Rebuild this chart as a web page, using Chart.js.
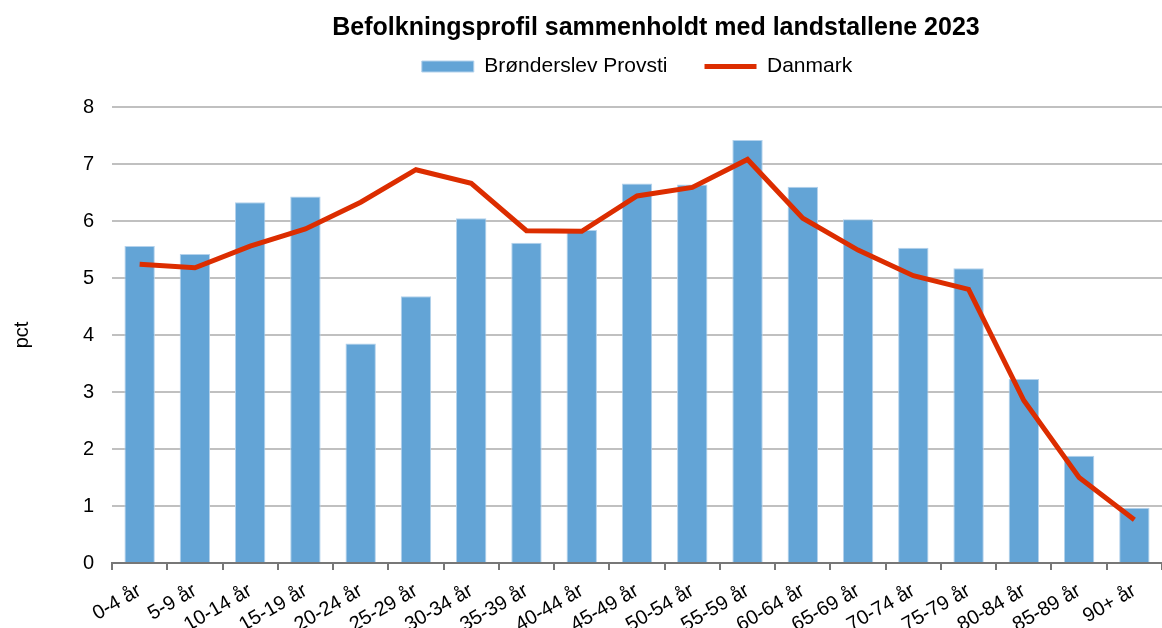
<!DOCTYPE html>
<html lang="da">
<head>
<meta charset="UTF-8">
<title>Befolkningsprofil</title>
<script src="https://cdn.jsdelivr.net/npm/chart.js"></script>
<style>
    body {
        margin: 0;
        background: #fff;
        font-family: 'Liberation Sans', Arial, sans-serif;
    }
</style>
</head>
<body>
<canvas id="chart" width="1162" height="628"></canvas>
<script>
// aldersgrupper
var labels = ['0-4 år', '5-9 år', '10-14 år', '15-19 år', '20-24 år', '25-29 år', '30-34 år',
    '35-39 år', '40-44 år', '45-49 år', '50-54 år', '55-59 år', '60-64 år', '65-69 år',
    '70-74 år', '75-79 år', '80-84 år', '85-89 år', '90+ år'];

// pct af befolkningen
var provsti = [5.56, 5.42, 6.33, 6.43, 3.85, 4.68, 6.05, 5.62, 5.84, 6.66, 6.64, 7.42,
    6.60, 6.03, 5.53, 5.17, 3.23, 1.88, 0.97];
var danmark = [5.24, 5.18, 5.56, 5.86, 6.33, 6.90, 6.66, 5.83, 5.82, 6.44, 6.59, 7.08,
    6.05, 5.49, 5.04, 4.80, 2.85, 1.50, 0.76];

Chart.defaults.font.family = "'Liberation Sans', Arial, sans-serif";
Chart.defaults.color = '#000';

// ekstra luft mellem legend og plot, og titlen lidt mod højre
var spacer = {
    id: 'spacer',
    beforeInit: function(chart) {
        Chart.layouts.addBox(chart, {
            position: 'top',
            weight: 100,
            fullSize: false,
            options: {},
            top: 0, left: 0, right: 0, bottom: 0, width: 0, height: 0,
            isHorizontal: function() { return true; },
            update: function(maxWidth) {
                this.width = maxWidth;
                this.height = 20;
            },
            draw: function() {}
        });
    },
    afterLayout: function(chart) {
        if (chart.titleBlock) {
            chart.titleBlock.left += 19;
            chart.titleBlock.right += 19;
        }
    }
};

var ctx = document.getElementById('chart').getContext('2d');
new Chart(ctx, {
    type: 'bar',
    data: {
        labels: labels,
        datasets: [{
            type: 'line',
            label: 'Danmark',
            data: danmark,
            borderColor: '#dc2d00',
            backgroundColor: '#dc2d00',
            borderWidth: 5,
            pointRadius: 0,
            pointStyle: 'line',
            tension: 0,
            order: 0
        }, {
            label: 'Brønderslev Provsti',
            data: provsti,
            backgroundColor: '#63a4d6',
            borderColor: '#b4d2ec',
            borderWidth: 1,
            pointStyle: 'rect',
            barPercentage: 0.55,
            categoryPercentage: 1,
            order: 1
        }]
    },
    plugins: [spacer],
    options: {
        responsive: false,
        animation: false,
        plugins: {
            title: {
                display: true,
                text: 'Befolkningsprofil sammenholdt med landstallene 2023',
                fullSize: false,
                font: { size: 25, weight: 'bold' },
                padding: { top: 13, bottom: -24 }
            },
            legend: {
                fullSize: false,
                reverse: true,
                labels: {
                    usePointStyle: true,
                    pointStyleWidth: 52,
                    boxHeight: 11,
                    font: { size: 21 },
                    padding: 37
                }
            },
            tooltip: { enabled: false }
        },
        scales: {
            x: {
                afterFit: function(scale) { scale.height = 65; },
                grid: {
                    drawOnChartArea: false,
                    color: '#777',
                    lineWidth: 2,
                    tickLength: 7
                },
                border: { color: '#777', width: 2 },
                ticks: {
                    font: { size: 20 },
                    autoSkip: false,
                    maxRotation: 30,
                    minRotation: 30,
                    padding: 9
                }
            },
            y: {
                min: 0,
                max: 8,
                afterFit: function(scale) { scale.width = 112; },
                ticks: {
                    stepSize: 1,
                    font: { size: 20 },
                    padding: 18
                },
                grid: {
                    color: '#c0c0c0',
                    lineWidth: 2,
                    drawTicks: false
                },
                border: { display: false },
                title: {
                    display: true,
                    text: 'pct',
                    font: { size: 20 },
                    padding: { top: 10, bottom: 4 }
                }
            }
        }
    }
});
</script>
</body>
</html>
